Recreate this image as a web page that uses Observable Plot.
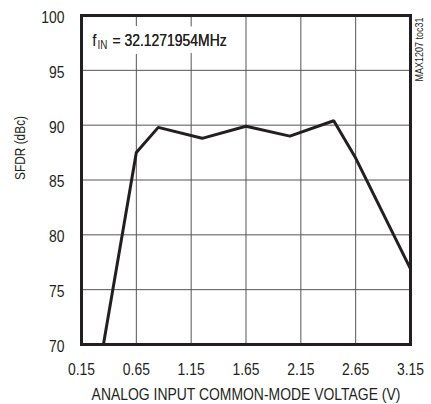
<!DOCTYPE html>
<html>
<head>
<meta charset="utf-8">
<script src="https://cdn.jsdelivr.net/npm/d3@7"></script>
<script src="https://cdn.jsdelivr.net/npm/@observablehq/plot@0.6"></script>
<style>
  html, body { margin: 0; padding: 0; background: #fff; }
</style>
</head>
<body>
<div id="chart"></div>
<script>
// Data
const voltage = [0.35, 0.65, 0.85, 1.25, 1.65, 2.05, 2.45, 2.65, 3.15];
const sfdr    = [70.0, 87.5, 89.8, 88.8, 89.9, 89.0, 90.4, 87.0, 76.9];
const xTicks = [0.15, 0.65, 1.15, 1.65, 2.15, 2.65, 3.15];
const yTicks = [70, 75, 80, 85, 90, 95, 100];
const xTitle = "ANALOG INPUT COMMON-MODE VOLTAGE (V)";
const yTitle = "SFDR (dBc)";
const noteMain = "f";
const noteSub = "IN";
const noteRest = "= 32.1271954MHz";
const tag = "MAX1207 toc31";

const data = voltage.map((v, i) => ({v, s: sfdr[i]}));
const FONT = "'Liberation Sans', Arial, Helvetica, sans-serif";
const NARROW = 0.82; // Helvetica Narrow is Helvetica compressed horizontally
const INK = "#231f20";

const chart = Plot.plot({
  width: 431,
  height: 404,
  marginLeft: 81,
  marginRight: 21,
  marginTop: 15,
  marginBottom: 60,
  style: {fontFamily: FONT, fontSize: "17px", color: INK, background: "#fff"},
  x: {domain: [0.15, 3.15]},
  y: {domain: [70, 100]},
  marks: [
    Plot.gridX(xTicks, {stroke: "#555", strokeOpacity: 1, strokeWidth: 1}),
    Plot.gridY(yTicks, {stroke: "#555", strokeOpacity: 1, strokeWidth: 1}),
    Plot.axisX(xTicks, {tickSize: 0, tickPadding: 18, tickFormat: d => d.toFixed(2), label: null, fontSize: 17}),
    Plot.axisY(yTicks, {tickSize: 0, tickPadding: 17, dy: 2, label: null, fontSize: 17}),
    // annotation, white halo hides the gridlines behind it
    Plot.text([noteMain], {frameAnchor: "top-left", dx: 11, dy: 30, text: d => d, fontSize: 17, textAnchor: "start", lineAnchor: "bottom", fill: INK, stroke: "white", strokeWidth: 16}),
    Plot.text([noteRest], {frameAnchor: "top-left", dx: 31, dy: 30, text: d => d, fontSize: 17, textAnchor: "start", lineAnchor: "bottom", fill: INK, stroke: "white", strokeWidth: 16}),
    Plot.text([noteSub], {frameAnchor: "top-left", dx: 16, dy: 33, text: d => d, fontSize: 12, textAnchor: "start", lineAnchor: "bottom", fill: INK, stroke: "white", strokeWidth: 10}),
    Plot.text([noteMain], {frameAnchor: "top-left", dx: 11, dy: 30, text: d => d, fontSize: 17, textAnchor: "start", lineAnchor: "bottom", fill: INK}),
    Plot.text([noteRest], {frameAnchor: "top-left", dx: 31, dy: 30, text: d => d, fontSize: 17, textAnchor: "start", lineAnchor: "bottom", fill: INK}),
    Plot.line(data, {x: "v", y: "s", stroke: INK, strokeWidth: 3, strokeLinejoin: "miter"}),
    Plot.frame({stroke: INK, strokeWidth: 3}),
    Plot.text([xTitle], {frameAnchor: "bottom", dy: 50, text: d => d, fontSize: 17, lineAnchor: "middle", fill: INK}),
    Plot.text([yTitle], {frameAnchor: "left", dx: -61, rotate: -90, text: d => d, fontSize: 14.5, lineAnchor: "middle", fill: INK}),
    Plot.text([tag], {frameAnchor: "top-right", dx: 9, dy: 2, rotate: -90, textAnchor: "end", lineAnchor: "middle", text: d => d, fontSize: 11, fill: INK})
  ]
});
// compress every text horizontally about its own anchor (narrow typeface)
d3.select(chart).selectAll("text").each(function() {
  const t = this.getAttribute("transform") || "";
  const x = +this.getAttribute("x") || 0, y = +this.getAttribute("y") || 0;
  this.setAttribute("transform", `${t} translate(${x},${y}) scale(${NARROW},1) translate(${-x},${-y})`);
});
document.getElementById("chart").appendChild(chart);
</script>
</body>
</html>
